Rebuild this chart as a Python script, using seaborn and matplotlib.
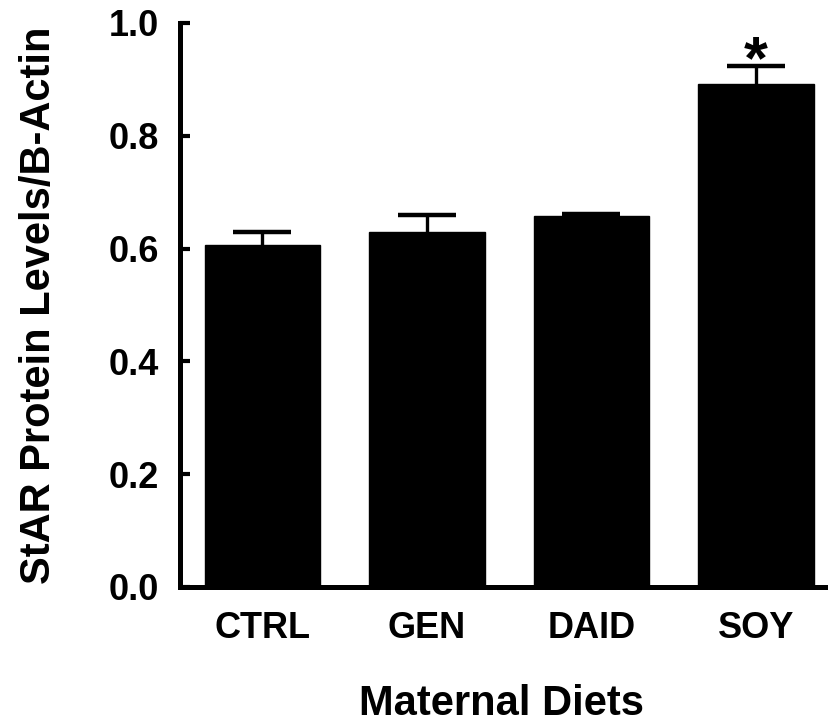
import matplotlib
matplotlib.use("Agg")
import matplotlib.pyplot as plt
import seaborn as sns
import pandas as pd

# ---- data ----
diets = ["CTRL", "GEN", "DAID", "SOY"]
star_levels = [0.607, 0.630, 0.658, 0.892]
sem_upper = [0.023, 0.029, 0.004, 0.032]
significance = ["", "", "", "*"]
y_ticks = [0.0, 0.2, 0.4, 0.6, 0.8, 1.0]
y_tick_labels = ["0.0", "0.2", "0.4", "0.6", "0.8", "1.0"]

sns.set_theme(style="ticks")
plt.rcParams['font.family'] = ['Liberation Sans', 'DejaVu Sans']
plt.rcParams['font.weight'] = 'bold'

df = pd.DataFrame({"Diet": diets, "Level": star_levels})

fig = plt.figure(figsize=(8.29, 7.23), dpi=100)
ax = fig.add_axes([180 / 829, (723 - 587) / 723, 1 - 180 / 829, (587 - 23) / 723])

sns.barplot(data=df, x="Diet", y="Level", order=diets, color="black",
            saturation=1, width=0.7, errorbar=None, ax=ax,
            edgecolor="black", linewidth=1)

xpos = list(range(len(diets)))
eb = ax.errorbar(xpos, star_levels, yerr=[[0] * len(diets), sem_upper], fmt="none",
                 ecolor="black", elinewidth=2.4, capsize=21, capthick=3.2, zorder=3)
# hide the lower caps (only the upper half of the error bar is shown)
caplines = eb[1]
if len(caplines) >= 2:
    caplines[0].set_visible(False)

for x, v, e, s in zip(xpos, star_levels, sem_upper, significance):
    if s:
        ax.text(x, v + e - 0.022, s, ha="center", va="baseline",
                fontsize=44, fontweight="bold", color="black")

ax.set_ylim(0, 1.0)
ax.set_xlim(-0.5, 3.443)
ax.set_yticks(y_ticks)
ax.set_yticklabels(y_tick_labels)

for side in ["top", "right"]:
    ax.spines[side].set_visible(False)
for side in ["left", "bottom"]:
    ax.spines[side].set_linewidth(3.6)
    ax.spines[side].set_color("black")

ax.tick_params(axis="y", direction="in", length=7, width=3, pad=15,
               labelsize=26, colors="black")
ax.tick_params(axis="x", length=0, pad=17, labelsize=26, colors="black")
for lab in ax.get_xticklabels() + ax.get_yticklabels():
    lab.set_fontweight("bold")

ax.set_ylabel("StAR Protein Levels/B-Actin", fontsize=30, fontweight="bold",
              color="black")
ax.yaxis.set_label_coords(-0.186, 0.5)
ax.set_xlabel("Maternal Diets", fontsize=30, fontweight="bold", color="black")
ax.xaxis.set_label_coords(0.496, -0.172)

fig.savefig("out.png", dpi=100, facecolor="white")
